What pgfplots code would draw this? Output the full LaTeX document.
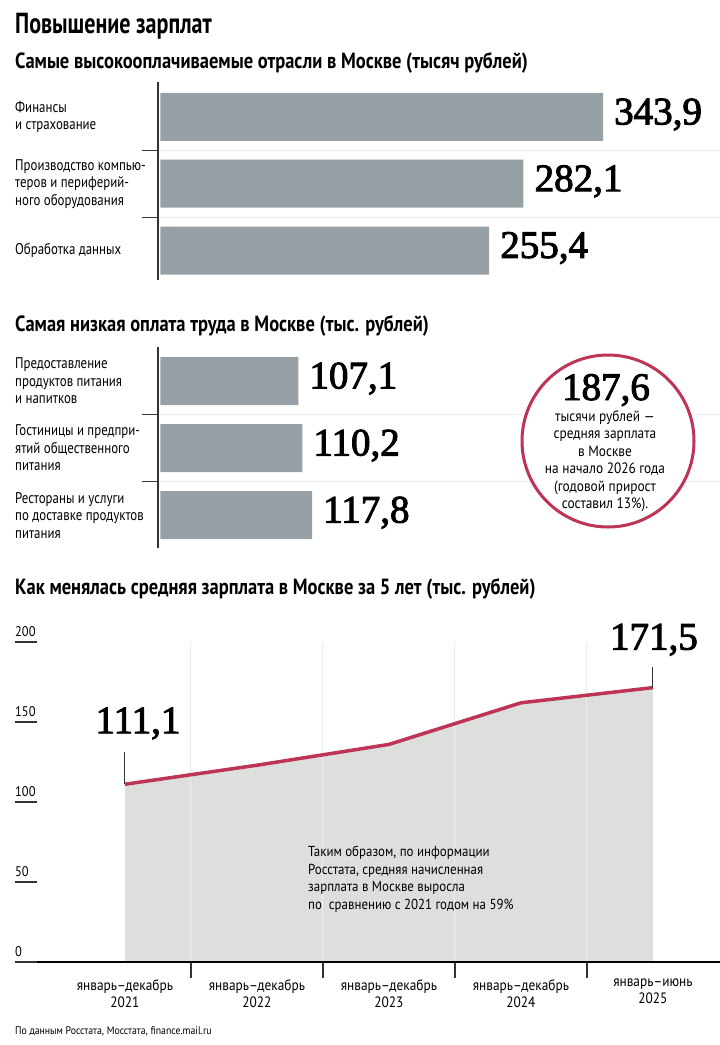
\documentclass[border=0pt]{standalone}
\usepackage{fontspec}
\usepackage{pgfplots}
\pgfplotsset{compat=1.18}
\setmainfont{PT Sans}
\newfontfamily\cond{PT Sans}[FakeStretch=0.89]
\newfontfamily\condl{PT Sans}[FakeStretch=0.83]
\newfontfamily\condb{PT Sans}[FakeStretch=0.76]
\newfontfamily\condsub{PT Sans}[FakeStretch=0.84]
\newfontfamily\numf{Liberation Serif}[FakeBold=2.5]
\newcommand\lab{\condl\fontsize{15.5}{17.5}\selectfont}
\newcommand\numfont{\numf\fontsize{39}{40}\selectfont}
\newcommand\ticf{\cond\fontsize{14}{16}\selectfont}
\newcommand\subt{\condsub\bfseries\fontsize{22}{24}\selectfont}
\definecolor{bargray}{HTML}{96A0A5}
\definecolor{crim}{HTML}{BD3454}
\definecolor{areagray}{HTML}{DCDFDC}
\definecolor{gridc}{HTML}{EEEEEE}
\definecolor{vgrid}{HTML}{ECECEC}
\definecolor{axc}{HTML}{333333}
\pgfplotsset{
  barax/.style={
    anchor=north west, scale only axis, width=561.5pt,
    xbar, bar width=48pt, xmin=-1.5, xmax=434.8, y dir=reverse,
    hide x axis, axis y line*=left, y axis line style={line width=2pt, color=axc, -},
    ytick={0.5,1.5}, yticklabels={}, major tick length=16pt, tick align=outside,
    ytick style={line width=1.2pt, color=axc},
    ymajorgrids, major grid style={gridc, line width=1pt},
    extra y tick style={major tick length=0pt, grid=none,
      tick label style={anchor=west, align=left, inner sep=0pt, xshift=-143.5pt, font=\lab}},
    point meta=x,
    nodes near coords={\pgfmathprintnumber[fixed,fixed zerofill,precision=1,use comma,assume math mode=true]{\pgfplotspointmeta}},
    every node near coord/.append style={font=\numfont, xshift=11pt, yshift=2.5pt, inner sep=0pt, anchor=west},
    clip=false,
  }
}
\begin{document}
\begin{tikzpicture}[x=1pt,y=1pt]
\path[use as bounding box] (0,0) rectangle (720,-1045);
% titles
\node[anchor=base west, inner sep=0] at (15,-33) {\condb\bfseries\fontsize{29}{31}\selectfont Повышение зарплат};
\node[anchor=base west, inner sep=0] at (15,-68) {\subt Самые высокооплачиваемые отрасли в Москве (тысяч рублей)};
\node[anchor=base west, inner sep=0] at (15,-331) {\subt Самая низкая оплата труда в Москве (тыс. рублей)};
\node[anchor=base west, inner sep=0] at (15,-594) {\subt Как менялась средняя зарплата в Москве за 5 лет (тыс. рублей)};

% top bar chart
\begin{axis}[barax, at={(158.5pt,-82pt)}, height=198pt, ymin=-0.524, ymax=2.442,
  extra y ticks={0,1,2},
  extra y tick labels={{Финансы\\и страхование},{Производство компью-\\теров и периферий-\\ного оборудования},{Обработка данных}}]
\addplot[fill=bargray, draw=none] coordinates {(343.9,0) (282.1,1) (255.4,2)};
\end{axis}

% bottom bar chart
\begin{axis}[barax, at={(158.5pt,-347pt)}, height=201pt, ymin=-0.507, ymax=2.49,
  extra y ticks={0,1,2},
  extra y tick labels={{Предоставление\\продуктов питания\\и напитков},{Гостиницы и предпри-\\ятий общественного\\питания},{Рестораны и услуги\\по доставке продуктов\\питания}}]
\addplot[fill=bargray, draw=none] coordinates {(107.1,0) (110.2,1) (117.8,2)};
\end{axis}

% circle callout
\draw[crim, line width=3pt, fill=white] (608,-441) circle (86);
\node[anchor=base, inner sep=0] at (606,-400) {\numfont 187,6};
\node[anchor=north, align=center, inner sep=0, font={\cond\fontsize{15}{17.5}\selectfont}] at (605,-410)
  {тысячи рублей —\\средняя зарплата\\в Москве\\на начало 2026 года\\(годовой прирост\\составил 13\%).};

% line chart
\begin{axis}[
  at={(15pt,-962pt)}, anchor=south west, scale only axis, width=705pt, height=320pt,
  xmin=-0.833, xmax=4.508, ymin=0, ymax=200,
  axis x line*=bottom, axis y line*=left,
  x axis line style={line width=2pt, -, black}, y axis line style={draw=none},
  xtick={0.5,1.5,2.5,3.5}, xticklabels={}, major tick length=16pt, tick align=outside,
  xtick style={line width=1.2pt, color=axc},
  ytick=\empty,
  /pgf/number format/assume math mode=true,
  extra y ticks={0,50,100,150,200},
  extra y tick style={major tick length=22pt, tick align=inside,
    ytick style={line width=1.2pt, color=axc},
    tick label style={anchor=south west, inner sep=0pt, yshift=5pt, font=\ticf}},
  extra x ticks={0,1,2,3,4},
  extra x tick labels={{январь–декабрь\\2021},{январь–декабрь\\2022},{январь–декабрь\\2023},{январь–декабрь\\2024},{январь–июнь\\2025}},
  extra x tick style={major tick length=0pt,
    tick label style={align=center, inner sep=0pt, anchor=north, yshift=-17pt, font={\cond\fontsize{15}{17}\selectfont}}},
  axis on top, clip=false,
]
\addplot[fill=areagray, draw=none] coordinates {(0,111.1) (1,123.0) (2,136.0) (3,162.0) (4,171.5)} \closedcycle;
\addplot[ycomb, draw=vgrid, line width=1pt, mark=none] coordinates {(0.5,200) (1.5,200) (2.5,200) (3.5,200)};
\addplot[crim, line width=3.5pt, line join=round, mark=none] coordinates {(0,111.1) (1,123.0) (2,136.0) (3,162.0) (4,171.5)};
\addplot[draw=none, mark=none, point meta=y,
  error bars/.cd, y dir=plus, y explicit, error mark=none, error bar style={line width=1pt, color=axc}]
  coordinates {(0,111.1) +- (0,20)};
\addplot[draw=none, mark=none, point meta=y,
  error bars/.cd, y dir=plus, y explicit, error mark=none, error bar style={line width=1pt, color=axc}]
  coordinates {(4,171.5) +- (0,13)};
\addplot[draw=none, mark=none, point meta=y,
  nodes near coords={\pgfmathprintnumber[fixed,fixed zerofill,precision=1,use comma,assume math mode=true]{\pgfplotspointmeta}},
  every node near coord/.append style={font=\numfont, anchor=base, inner sep=0pt, xshift=13pt, yshift=51pt}]
  coordinates {(0,111.1)};
\addplot[draw=none, mark=none, point meta=y,
  nodes near coords={\pgfmathprintnumber[fixed,fixed zerofill,precision=1,use comma,assume math mode=true]{\pgfplotspointmeta}},
  every node near coord/.append style={font=\numfont, anchor=base, inner sep=0pt, xshift=1pt, yshift=38pt}]
  coordinates {(4,171.5)};
\end{axis}

\node[anchor=north west, align=left, inner sep=0, font={\cond\fontsize{14.5}{17.5}\selectfont}] at (308,-846)
  {Таким образом, по информации\\Росстата, средняя начисленная\\зарплата в Москве выросла\\по\ \ сравнению с 2021 годом на 59\%};
\node[anchor=base west, inner sep=0] at (15,-1034) {\cond\fontsize{11}{13}\selectfont По данным Росстата, Мосстата, finance.mail.ru};
\end{tikzpicture}
\end{document}
